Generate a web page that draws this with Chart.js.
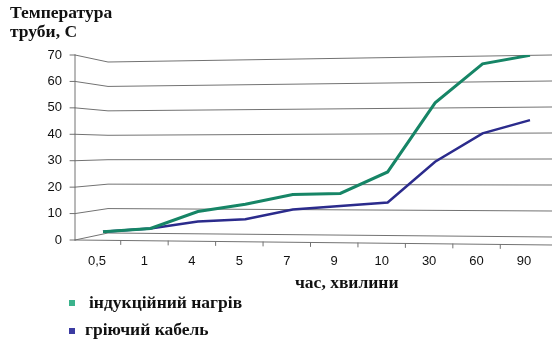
<!DOCTYPE html>
<html>
<head>
<meta charset="utf-8">
<script src="https://cdn.jsdelivr.net/npm/chart.js@4.4.1/dist/chart.umd.min.js"></script>
<style>
  html, body { margin: 0; padding: 0; background: #ffffff; }
  #wrap { width: 552px; height: 343px; }
</style>
</head>
<body>
<div id="wrap"><canvas id="chart" width="552" height="343"></canvas></div>
<script>
// Heating time, minutes
const timeLabels = ['0,5', '1', '4', '5', '7', '9', '10', '30', '60', '90'];
// Pipe temperature, C
const inductionHeating = [0.5, 2, 9, 12, 16, 16.5, 25, 52, 67, 70];
const heatingCable = [0.5, 2, 5, 6, 10, 11.5, 13, 29, 40, 45];
const yTickValues = [0, 10, 20, 30, 40, 50, 60, 70];
const seriesNames = ['індукційний нагрів', 'гріючий кабель'];
const yTitleLines = ['Температура', 'труби, С'];
const xTitle = 'час, хвилини';

const lineColors = ['#168566', '#2b2b8c'];
const markerColors = ['#3bb38c', '#3b3ba2'];
const gridColor = '#727272';
const serifBold = 'bold 17.5px "Liberation Serif", "Times New Roman", serif';
const tickFont = { family: '"Liberation Sans", Arial, sans-serif', size: 13 };

// Box-like frame: a front axis, a narrow side wall and a back wall drawn in perspective.
const frame = {
  axisX: 75,        // front vertical axis
  wallX: 108,       // side wall meets back wall
  rightX: 552,      // back wall runs to the canvas edge
  wallBottomIn: 7,  // back wall bottom sits above the front bottom at wallX
  wallTopIn: 7,     // back wall top sits below the front top at wallX
  bottomGrow: 4,    // back wall bottom drops this much towards the right
  topGrow: 7,       // back wall top rises this much towards the right
  axisDrop: 5       // front x axis drops this much towards the right
};

function wallEdges(area, x) {
  const t = (x - frame.wallX) / (frame.rightX - frame.wallX);
  return {
    bottom: area.bottom - frame.wallBottomIn + t * frame.bottomGrow,
    top: area.top + frame.wallTopIn - t * frame.topGrow
  };
}

// Project a front-axis pixel (from the y scale) onto the back wall at column x.
function backY(chart, x, frontPixel) {
  const area = chart.chartArea;
  const frac = (area.bottom - frontPixel) / (area.bottom - area.top);
  const e = wallEdges(area, x);
  return e.bottom - frac * (e.bottom - e.top);
}

function frontAxisY(area, x) {
  return area.bottom + (x - frame.axisX) / (frame.rightX - frame.axisX) * frame.axisDrop;
}

const perspectivePlugin = {
  id: 'perspective',
  afterDatasetsUpdate(chart) {
    const yScale = chart.scales.y;
    chart.data.datasets.forEach((ds, di) => {
      const meta = chart.getDatasetMeta(di);
      meta.data.forEach((pt, i) => {
        pt.y = backY(chart, pt.x, yScale.getPixelForValue(ds.data[i]));
      });
      if (meta.dataset) { delete meta.dataset._path; }
    });
  },
  beforeDatasetsDraw(chart) {
    const ctx = chart.ctx;
    const area = chart.chartArea;
    const yScale = chart.scales.y;
    const xScale = chart.scales.x;
    ctx.save();
    ctx.strokeStyle = gridColor;
    ctx.lineWidth = 1;
    ctx.lineCap = 'round';

    yTickValues.forEach(v => {
      const fy = yScale.getPixelForValue(v);
      const wy = backY(chart, frame.wallX, fy);
      const ry = backY(chart, frame.rightX, fy);
      ctx.beginPath();
      ctx.moveTo(frame.axisX, fy);
      ctx.lineTo(frame.wallX, wy);
      ctx.lineTo(frame.rightX, ry);
      ctx.stroke();
      // tick mark on the front axis
      ctx.beginPath();
      ctx.moveTo(frame.axisX - 5, fy);
      ctx.lineTo(frame.axisX, fy);
      ctx.stroke();
    });

    // front vertical axis
    ctx.beginPath();
    ctx.moveTo(frame.axisX, area.top);
    ctx.lineTo(frame.axisX, area.bottom);
    ctx.stroke();

    // front horizontal axis
    ctx.beginPath();
    ctx.moveTo(frame.axisX, area.bottom);
    ctx.lineTo(frame.rightX, frontAxisY(area, frame.rightX));
    ctx.stroke();

    // category separators on the front axis
    const off = xScale.options.ticks.labelOffset;
    for (let i = 0; i < timeLabels.length - 1; i++) {
      const x = (xScale.getPixelForTick(i) + xScale.getPixelForTick(i + 1)) / 2 + off;
      const y = frontAxisY(area, x);
      ctx.beginPath();
      ctx.moveTo(x, y);
      ctx.lineTo(x, y + 4);
      ctx.stroke();
    }
    ctx.restore();
  },
  afterDraw(chart) {
    const ctx = chart.ctx;
    ctx.save();
    ctx.fillStyle = '#111111';
    ctx.font = serifBold;
    ctx.textBaseline = 'alphabetic';
    ctx.textAlign = 'left';
    ctx.fillText(yTitleLines[0], 10, 18);
    ctx.fillText(yTitleLines[1], 10, 37);

    ctx.fillText(xTitle, 295, 288);

    // legend
    const legendRows = [
      { sq: [69, 300], text: [89, 308] },
      { sq: [69, 328], text: [85, 335] }
    ];
    legendRows.forEach((row, i) => {
      ctx.fillStyle = markerColors[i];
      ctx.fillRect(row.sq[0], row.sq[1], 6, 6);
      ctx.fillStyle = '#111111';
      ctx.fillText(seriesNames[i], row.text[0], row.text[1]);
    });
    ctx.restore();
  }
};

new Chart(document.getElementById('chart'), {
  type: 'line',
  data: {
    labels: timeLabels,
    datasets: [
      {
        label: seriesNames[0],
        data: inductionHeating,
        borderColor: lineColors[0],
        borderWidth: 3,
        pointRadius: 0,
        tension: 0,
        fill: false
      },
      {
        label: seriesNames[1],
        data: heatingCable,
        borderColor: lineColors[1],
        borderWidth: 2.5,
        pointRadius: 0,
        tension: 0,
        fill: false
      }
    ]
  },
  options: {
    responsive: false,
    animation: false,
    events: [],
    devicePixelRatio: 1,
    layout: { padding: { top: 55, right: 22, bottom: 0, left: 0 } },
    plugins: {
      legend: { display: false },
      title: { display: false },
      tooltip: { enabled: false }
    },
    scales: {
      x: {
        type: 'category',
        offset: false,
        grid: { display: false },
        border: { display: false },
        ticks: {
          padding: 6,
          labelOffset: -6,
          autoSkip: false,
          maxRotation: 0,
          color: '#111111',
          font: tickFont
        },
        afterFit(scale) { scale.height = 103; }
      },
      y: {
        min: 0,
        max: 70,
        grid: { display: false },
        border: { display: false },
        afterBuildTicks(scale) { scale.ticks = yTickValues.map(v => ({ value: v })); },
        ticks: {
          padding: 33,
          color: '#111111',
          font: tickFont
        },
        afterFit(scale) { scale.width = 103; }
      }
    }
  },
  plugins: [perspectivePlugin]
});
</script>
</body>
</html>
